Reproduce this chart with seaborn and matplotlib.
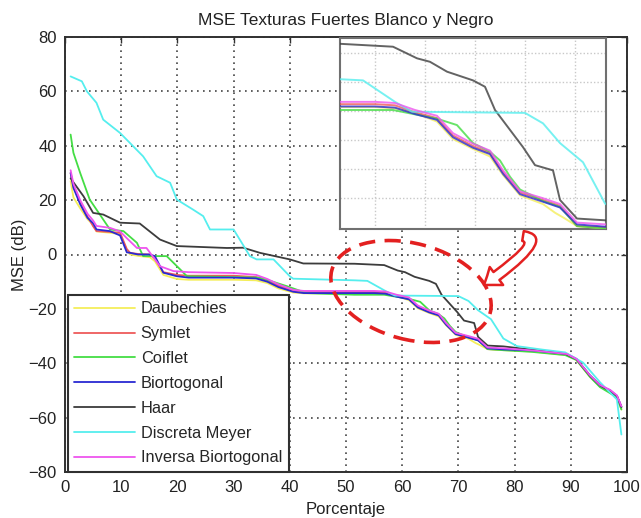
import numpy as np
import pandas as pd
import seaborn as sns
import matplotlib
matplotlib.use("Agg")
import matplotlib.pyplot as plt
from matplotlib.patches import Ellipse, FancyArrowPatch
from matplotlib.path import Path
from matplotlib.transforms import IdentityTransform
from matplotlib.lines import Line2D

# ---------------- data ----------------
names = ["Daubechies", "Symlet", "Coiflet", "Biortogonal", "Haar",
         "Discreta Meyer", "Inversa Biortogonal"]
colors = ["#f4ee5a", "#ee5a5a", "#44dd44", "#2a2ad2", "#3c3c3c", "#55eeee", "#ee55ee"]

x_group = [1, 1.5, 2.7, 4, 5, 5.6, 8, 9.8, 11, 11.6, 13, 15.1, 16, 17.5, 19.9, 22, 30, 34, 36,
           38, 40.6, 42.5, 51.5, 55, 57, 59, 61.2, 62.8, 64.8, 66.5, 67.8, 69.5, 71.8, 73.5,
           75.2, 78, 83.3, 89.3, 91, 93.4, 95.2, 97, 98.2, 99]
y_symlet = [30, 25, 19, 14, 10.4, 8.6, 8.3, 8, 2, 0.6, 0.2, 0, -1.5, -6.5, -7.5, -7.8, -7.8,
            -8.3, -9.5, -11.5, -13.3, -13.8, -13.8, -13.8, -14, -15.2, -16.2, -19.2, -21,
            -22.2, -25.5, -29, -30.3, -31.3, -34.8, -35, -35.5, -36.8, -38.6, -44.7, -48.4,
            -50, -52.1, -56.4]
y_biort = [30, 24.5, 18.5, 13.5, 11.5, 9.2, 8.6, 7, 0.8, 0.6, 0, 0, -0.6, -6.7, -8, -8.5,
           -8.5, -8.8, -10, -12, -13.7, -14.2, -14.2, -14.2, -14.4, -15.5, -16.5, -19.5,
           -21.3, -22.4, -25.8, -29.3, -30.6, -31.6, -34.5, -34.9, -35.3, -36.6, -38.4,
           -44.5, -48.2, -50, -52, -56]

x_daub = [1, 1.5, 2.7, 4, 5, 5.6, 8, 9.8, 11, 11.6, 13, 15.1, 16, 17.5, 19.9, 22, 30, 34, 36,
          38, 40.6, 42.5, 51.5, 55, 57, 59, 61.2, 62.8, 64.8, 66.5, 67.8, 69.5, 71.8, 73, 74,
          75.2, 78, 83.3, 89.3, 91, 93.4, 95.2, 97, 98.2, 99]
y_daub = [27, 21, 17, 13, 11, 8.5, 8, 7.5, 1.5, 0, -0.5, -1, -2.5, -7.5, -9, -9.3, -9.3,
          -9.5, -10.5, -12.5, -14, -14.3, -14.3, -14.3, -14.5, -15.3, -16.8, -19.8, -21.5,
          -22.8, -26, -29.5, -31, -32.5, -33.5, -34.8, -35.2, -35.7, -37, -38.8, -45, -48.6,
          -50.3, -52.5, -57]

x_inv = [1, 1.5, 2.7, 4, 5, 5.6, 8, 9.8, 11, 12.8, 14.5, 16.9, 19.3, 22, 30, 34, 36, 38,
         40.6, 42.5, 51.5, 55, 57, 59, 61.2, 62.8, 64.8, 66.5, 67.8, 69.5, 71.8, 73.5, 75.2,
         78, 83.3, 89.3, 91, 93.4, 95.2, 97, 98.2, 99]
y_inv = [31, 26, 20, 15, 12.5, 10.5, 9.8, 8.5, 6, 2.4, 2.4, -4.3, -6.1, -6.5, -6.8, -7.5,
         -9, -11, -13, -13.4, -13.4, -13.4, -13.6, -14.8, -15.8, -18.8, -20.6, -21.8, -25.2,
         -28.8, -30, -31, -34.2, -34.5, -35.3, -36.6, -38.4, -44.4, -48, -49.8, -51.8, -55.8]

x_coif = [1, 1.5, 2.7, 4.4, 8, 10.4, 12.8, 13.9, 18.1, 20.5, 21.7, 34.7, 39.4, 43, 51.5,
          56.8, 61.2, 63.2, 64.8, 66.5, 67.5, 68.5, 69.5, 71.8, 73.5, 75.2, 78, 83, 89, 91,
          93.4, 95.2, 98.2, 99]
y_coif = [44.1, 37.4, 30, 20.2, 9.2, 8.6, 4.3, -0.6, -0.6, -5.5, -8, -8.5, -11.6, -14.2,
          -14.8, -14.8, -16.3, -17.4, -20.5, -22, -23.5, -26.3, -28.5, -30.5, -31.5, -34.8,
          -35.2, -35.8, -37, -38.8, -45, -48.8, -52.5, -57]

x_haar = [1, 3.3, 5, 6.8, 9.8, 13.3, 16.9, 19.9, 28.8, 31.7, 34.7, 40, 42.4, 51.5, 56.8,
          59.2, 60.5, 62.2, 64.8, 66, 67, 69.8, 71, 72.8, 73.5, 75.2, 78, 83, 89, 91, 93.4,
          95.2, 98.2, 99]
y_haar = [28, 21.4, 15.3, 14.7, 11.7, 11.4, 5.5, 3.1, 2.4, 2.5, 0.6, -1.8, -3.3, -3.4, -3.9,
          -5.9, -6.5, -8.2, -9.7, -10.8, -14.8, -21.2, -24.3, -25.2, -30.3, -33.5, -33.8, -35,
          -36.5, -38.5, -44.5, -48, -52, -56]

x_meyer = [1, 3, 3.9, 5.6, 6.8, 9.8, 13.9, 16.3, 18.7, 19.9, 22.8, 24.6, 25.8, 30, 32.9,
           34.1, 37.1, 40, 40.6, 51.5, 53.8, 57, 58.7, 70, 71.8, 73.5, 75.8, 78, 80.4, 85, 89,
           92.2, 95.2, 98.2, 99]
y_meyer = [65.5, 63.7, 60, 55.8, 49.6, 44.7, 36.1, 28.8, 26.4, 20.2, 16.5, 14.1, 9.2, 9.2,
           -0.6, -1.8, -1.8, -8, -8.9, -9.5, -9.7, -13.4, -15.1, -15.3, -17.1, -20.5, -23.8,
           -30.9, -33.7, -35, -36, -39.8, -47, -53.3, -66.2]

x_ticks = [0, 10, 20, 30, 40, 50, 60, 70, 80, 90, 100]
y_ticks = [-80, -60, -40, -20, 0, 20, 40, 60, 80]
inset_xticks = [55, 60, 65, 70, 75]
inset_yticks = [-30, -25, -20, -15, -10, -5]

series = {
    "Daubechies": (x_daub, y_daub),
    "Symlet": (x_group, y_symlet),
    "Coiflet": (x_coif, y_coif),
    "Biortogonal": (x_group, y_biort),
    "Haar": (x_haar, y_haar),
    "Discreta Meyer": (x_meyer, y_meyer),
    "Inversa Biortogonal": (x_inv, y_inv),
}
frames = [pd.DataFrame({"x": xs, "y": ys, "serie": n}) for n, (xs, ys) in series.items()]
df = pd.concat(frames, ignore_index=True)
palette = dict(zip(names, colors))

# ---------------- style ----------------
sns.set_theme(style="white")
plt.rcParams["font.family"] = ["Liberation Sans", "DejaVu Sans"]

W, H = 641, 518
fig = plt.figure(figsize=(W / 100, H / 100), dpi=100)
fig.patch.set_facecolor("white")
ax = fig.add_axes([65 / W, 46 / H, 562 / W, 435 / H])

sns.lineplot(data=df, x="x", y="y", hue="serie", hue_order=names, palette=palette,
             estimator=None, sort=False, lw=1.3, ax=ax, legend=False, zorder=3)

ax.set_xlim(0, 100)
ax.set_ylim(-80, 80)
ax.set_xticks(x_ticks)
ax.set_yticks(y_ticks)
ax.tick_params(direction="in", length=4, width=1.0, colors="#303030", labelcolor="#222222",
               labelsize=12, top=True, right=True, pad=6)
ax.grid(True, linestyle=(0, (1, 2.6)), linewidth=1.2, color="#444444", zorder=0)
for s in ax.spines.values():
    s.set_color("#303030")
    s.set_linewidth(1.4)
ax.set_title("MSE Texturas Fuertes Blanco y Negro", fontsize=12.5, color="#222222", pad=9)
ax.set_xlabel("Porcentaje", fontsize=12, color="#222222", labelpad=5)
ax.set_ylabel("MSE (dB)", fontsize=12, color="#222222", labelpad=1)

handles = [Line2D([], [], color=c, lw=1.3) for c in colors]
leg = ax.legend(handles, names, loc="lower left", bbox_to_anchor=(0.005, 0.0),
                borderaxespad=0, fontsize=11.8, handlelength=3.7, handletextpad=0.35,
                labelspacing=0.6, borderpad=0.4, fancybox=False, framealpha=1,
                edgecolor="#303030")
leg.get_frame().set_linewidth(1.5)
leg.set_zorder(5)

# ---------------- inset (zoom) ----------------
axi = fig.add_axes([340 / W, (H - 229) / H, 266 / W, 191 / H])
sns.lineplot(data=df, x="x", y="y", hue="serie", hue_order=names, palette=palette,
             estimator=None, sort=False, lw=1.4, ax=axi, legend=False, alpha=0.8, zorder=3)
axi.set_xlim(51.5, 78.1)
axi.set_ylim(-35.3, -2.4)
axi.set_xticks(inset_xticks)
axi.set_yticks(inset_yticks)
axi.tick_params(length=0, labelbottom=False, labelleft=False)
axi.set_xlabel("")
axi.set_ylabel("")
axi.grid(True, linestyle=(0, (1, 1.5)), linewidth=1.0, color="#c8c8c8", zorder=0)
for s in axi.spines.values():
    s.set_color("#707070")
    s.set_linewidth(1.5)

# ---------------- annotations: dashed ellipse and curved arrow ----------------
ell = Ellipse((411, H - 291.5), width=164, height=96, angle=-15,
              transform=IdentityTransform(), fill=False, edgecolor="#e32020",
              linewidth=2.6, linestyle=(0, (4.5, 2.6)), zorder=6)
fig.add_artist(ell)

arrow_path = Path([(523, H - 236), (548, H - 240), (484, H - 285)],
                  [Path.MOVETO, Path.CURVE3, Path.CURVE3])
arr = FancyArrowPatch(path=arrow_path, transform=IdentityTransform(),
                      arrowstyle="simple,head_length=0.65,head_width=0.95,tail_width=0.42",
                      mutation_scale=17, facecolor="white", edgecolor="#e32020",
                      linewidth=1.8, zorder=7)
fig.add_artist(arr)

fig.savefig("out.png", dpi=100)
